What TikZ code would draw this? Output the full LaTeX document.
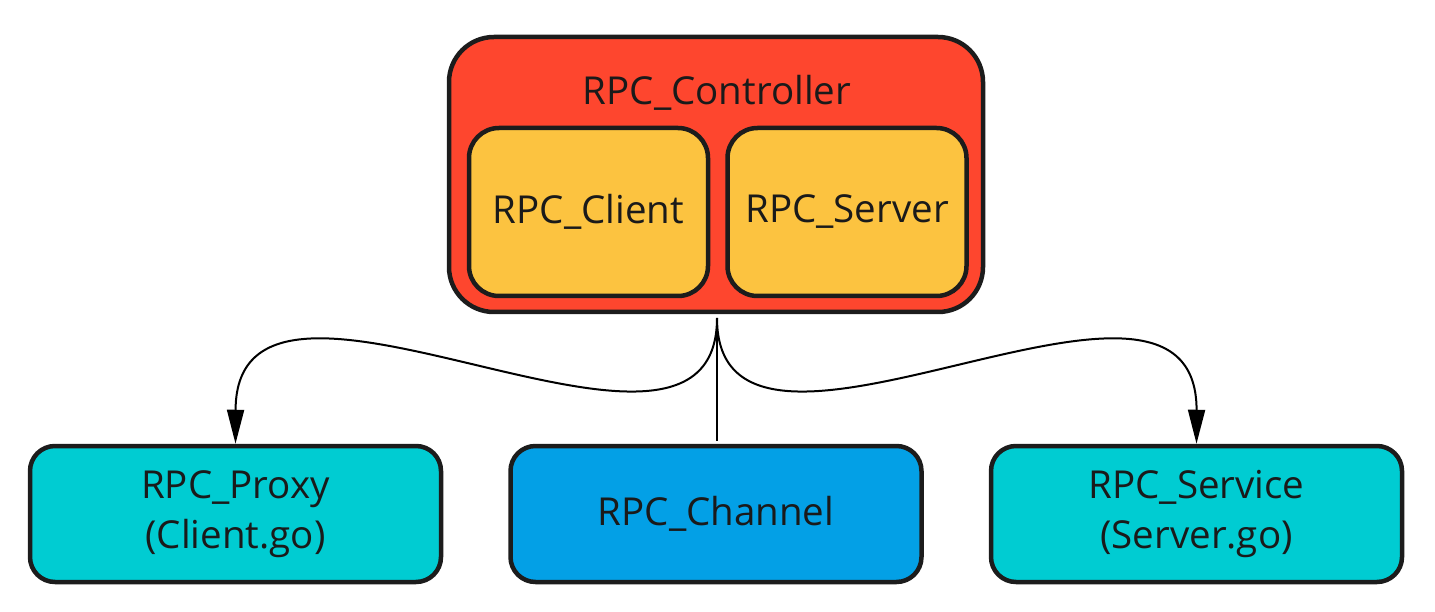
\documentclass[tikz,border=0pt]{standalone}
\usepackage{fontspec}
\setmainfont{Open Sans}
\usetikzlibrary{arrows.meta}
\definecolor{ctrlred}{HTML}{FE462E}
\definecolor{inyellow}{HTML}{FCC340}
\definecolor{tealc}{HTML}{00CCD2}
\definecolor{bluec}{HTML}{03A0E6}
\definecolor{edgec}{HTML}{1C1C1C}
\definecolor{txtc}{HTML}{1A1A1A}
\tikzset{
  box/.style={draw=edgec, line width=4.5pt, text=txtc, align=center, inner sep=0pt,
    font=\fontsize{38.5}{50}\selectfont},
  outerbox/.style={box, fill=ctrlred, minimum width=534pt, minimum height=275pt, rounded corners=45pt},
  innerbox/.style={box, fill=inyellow, minimum width=239pt, minimum height=168pt, rounded corners=30pt},
  lowbox/.style={box, minimum width=411pt, minimum height=136pt, rounded corners=25pt},
  conn/.style={draw=black, line width=2pt},
  arr/.style={conn, -{Triangle[length=34pt,width=17pt]}},
}
\begin{document}
\begin{tikzpicture}[x=1pt,y=-1pt]
\useasboundingbox (0,0) rectangle (1435,612);
\node[outerbox] (ctrl) at (716,174.5) {};
\node[text=txtc, font=\fontsize{38.5}{50}\selectfont, inner sep=0pt] (ctrllabel) at (717,93) {RPC\_Controller};
\node[innerbox] (client) at (588.5,212) {RPC\_Client};
\node[innerbox] (server) at (847,212) {RPC\_Server};
\node[lowbox, fill=tealc] (proxy) at (235.5,514) {RPC\_Proxy\\(Client.go)};
\node[lowbox, fill=bluec] (channel) at (716,514) {RPC\_Channel};
\node[lowbox, fill=tealc] (service) at (1196.5,514) {RPC\_Service\\(Server.go)};
\coordinate (src) at (717,318);
\draw[conn, shorten >=3pt] (src) -- (src |- channel.north);
\draw[arr] (src) .. controls (717,526) and (236,205) .. (proxy.north);
\draw[arr] (src) .. controls (717,526) and (1197,205) .. (service.north);
\end{tikzpicture}
\end{document}
